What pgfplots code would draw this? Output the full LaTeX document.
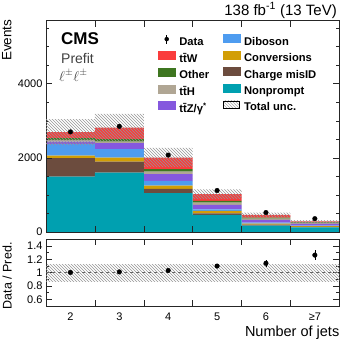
\documentclass[border=0pt]{standalone}
\usepackage{fontspec}
\setmainfont{Liberation Sans}
\usepackage{pgfplots}
\pgfplotsset{compat=1.18}
\usetikzlibrary{patterns}
\definecolor{cTTW}{RGB}{250,60,60}
\definecolor{cOther}{RGB}{62,118,32}
\definecolor{cTTH}{RGB}{176,166,148}
\definecolor{cTTZ}{RGB}{133,88,222}
\definecolor{cVV}{RGB}{78,156,240}
\definecolor{cConv}{RGB}{210,158,6}
\definecolor{cMisID}{RGB}{108,76,62}
\definecolor{cNP}{RGB}{0,160,176}
\definecolor{cHatch}{RGB}{150,150,150}
\pgfplotsset{
  cmsaxis/.style={scale only axis, width=293.3pt, xmin=-0.5, xmax=5.5,
    tick align=inside, major tick length=6pt, minor tick length=3pt,
    axis line style={line width=0.5pt, black!85},
    every tick/.style={black!85, line width=0.5pt},
    ticklabel style={font=\fontsize{11}{13}\selectfont},
    /pgf/number format/assume math mode=true,
    /pgf/number format/1000 sep={}},
  leg/.style={legend image code/.code={\fill[#1] (0pt,0pt) rectangle (17pt,8pt);}},
  legsty/.style={legend style={at={(#1,0.9356)}, anchor=north west, draw=none, fill=none,
    inner sep=0pt, outer sep=0pt, row sep=3.1pt, column sep=4pt,
    font=\fontsize{11.2}{13}\selectfont\bfseries,
    nodes={inner sep=0pt, text height=8pt, text depth=2.5pt}},
    legend cell align=left}
}
\begin{document}
\begin{tikzpicture}
\useasboundingbox (0pt,0pt) rectangle (349pt,-343pt);
% main stack
\begin{axis}[cmsaxis, at={(46pt,-232pt)}, anchor=south west, height=211.3pt,
  ymin=0, ymax=5700, ybar stacked, bar width=1, axis on top,
  ytick={0,2000,4000}, minor ytick={500,1000,1500,2500,3000,3500,4500,5000,5500},
  scaled y ticks=false, xtick={0.5,1.5,2.5,3.5,4.5}, xticklabels={}]
\addplot[fill=cNP, draw=none] coordinates {(0,1495) (1,1600) (2,1046) (3,459) (4,171) (5,128)};
\addplot[fill=cMisID, draw=none] coordinates {(0,495) (1,300) (2,116) (3,46) (4,25) (5,12)};
\addplot[fill=cConv, draw=none] coordinates {(0,70) (1,108) (2,89) (3,63) (4,30) (5,17)};
\addplot[fill=cVV, draw=none] coordinates {(0,308) (1,227) (2,127) (3,45) (4,25) (5,12)};
\addplot[fill=cTTZ, draw=none] coordinates {(0,71) (1,162) (2,181) (3,117) (4,75) (5,50)};
\addplot[fill=cTTH, draw=none] coordinates {(0,46) (1,44) (2,71) (3,62) (4,35) (5,22)};
\addplot[fill=cOther, draw=none] coordinates {(0,45) (1,64) (2,65) (3,46) (4,30) (5,17)};
\addplot[fill=cTTW, draw=none] coordinates {(0,163) (1,314) (2,313) (3,181) (4,69) (5,27)};
\end{axis}
% overlay: uncertainty band, data, legend column 1
\begin{axis}[cmsaxis, at={(46pt,-232pt)}, anchor=south west, height=211.3pt,
  ymin=0, ymax=5700, hide axis, legsty=0.3819]
\addlegendimage{legend image code/.code={\draw[black, line width=0.6pt] (8.5pt,-0.5pt)--(8.5pt,8.5pt); \fill[black] (8.5pt,4pt) circle (2pt);}}
\addlegendentry{Data}
\addlegendimage{leg=cTTW}\addlegendentry{t\=tW}
\addlegendimage{leg=cOther}\addlegendentry{Other}
\addlegendimage{leg=cTTH}\addlegendentry{t\=tH}
\addlegendimage{leg=cTTZ}\addlegendentry{t\=tZ/γ\textsuperscript{*}}
\addplot[draw=none, pattern=north west lines, pattern color=cHatch] coordinates {
 (-0.5,2343) (0.5,2343) (0.5,2453) (1.5,2453) (1.5,1747) (2.5,1747) (2.5,887) (3.5,887)
 (3.5,400) (4.5,400) (4.5,248) (5.5,248) (5.5,322) (4.5,322) (4.5,520) (3.5,520)
 (3.5,1151) (2.5,1151) (2.5,2269) (1.5,2269) (1.5,3185) (0.5,3185) (0.5,3043) (-0.5,3043)} -- cycle;
\addplot[only marks, mark=*, mark size=2.3pt, black,
  error bars/.cd, y dir=both, y explicit, error mark=none,
  error bar style={line width=0.6pt, black}] coordinates {
 (0,2700) +- (0,52) (1,2850) +- (0,53) (2,2075) +- (0,46)
 (3,1120) +- (0,33) (4,525) +- (0,23) (5,360) +- (0,19)};
\end{axis}
% overlay: legend column 2
\begin{axis}[cmsaxis, at={(46pt,-232pt)}, anchor=south west, height=211.3pt,
  ymin=0, ymax=5700, hide axis, legsty=0.6025]
\addlegendimage{leg=cVV}\addlegendentry{Diboson}
\addlegendimage{leg=cConv}\addlegendentry{Conversions}
\addlegendimage{leg=cMisID}\addlegendentry{Charge misID}
\addlegendimage{leg=cNP}\addlegendentry{Nonprompt}
\addlegendimage{legend image code/.code={\fill[pattern=north west lines, pattern color=cHatch!80] (0.5pt,0.5pt) rectangle (16.5pt,7.5pt);}}
\addlegendentry{Total unc.}
\end{axis}
% ratio panel
\begin{axis}[cmsaxis, at={(46pt,-306pt)}, anchor=south west, height=66.7pt,
  ymin=0.5, ymax=1.5, ytick={0.6,0.8,1,1.2,1.4}, minor ytick={0.5,0.7,0.9,1.1,1.3,1.5},
  xtick={0.5,1.5,2.5,3.5,4.5}, xticklabels={},
  extra x ticks={0,1,2,3,4,5}, extra x tick labels={2,3,4,5,6,≥7},
  extra x tick style={major tick length=0pt, xticklabel style={yshift=-3pt}}]
\addplot[draw=none, pattern=north west lines, pattern color=cHatch] coordinates {
 (-0.5,0.872) (5.5,0.872) (5.5,1.128) (-0.5,1.128)} -- cycle;
\addplot[gray!80!black, dashed, line width=0.5pt] coordinates {(-0.5,1) (5.5,1)};
\addplot[only marks, mark=*, mark size=2.3pt, black,
  error bars/.cd, y dir=both, y explicit, error mark=none,
  error bar style={line width=0.6pt, black}] coordinates {
 (0,1.003) +- (0,0.019) (1,1.011) +- (0,0.019) (2,1.033) +- (0,0.023)
 (3,1.099) +- (0,0.033) (4,1.141) +- (0,0.05) (5,1.263) +- (0,0.075)};
\end{axis}
% texts
\node[anchor=base east, inner sep=0pt, font=\fontsize{15}{17}\selectfont] at (337pt,-15pt) {138 fb\textsuperscript{-1} (13 TeV)};
\node[anchor=base west, inner sep=0pt, font=\fontsize{17}{19}\selectfont\bfseries] at (61pt,-44.3pt) {CMS};
\node[anchor=base west, inner sep=0pt, font=\fontsize{14}{16}\selectfont, text=black!75] at (61pt,-63.8pt) {Prefit};
\node[anchor=base west, inner sep=0pt, font=\fontsize{14}{16}\selectfont, text=black!75] at (59pt,-81pt) {$\ell^{\pm}\ell^{\pm}$};
\node[rotate=90, anchor=east, inner sep=0pt, font=\fontsize{13.5}{16}\selectfont] at (6.7pt,-19.5pt) {Events};
\node[rotate=90, anchor=center, inner sep=0pt, font=\fontsize{12.5}{15}\selectfont] at (7.2pt,-275.8pt) {Data / Pred.};
\node[anchor=base east, inner sep=0pt, font=\fontsize{14.5}{17}\selectfont] at (339.5pt,-336.5pt) {Number of jets};
\end{tikzpicture}
\end{document}
